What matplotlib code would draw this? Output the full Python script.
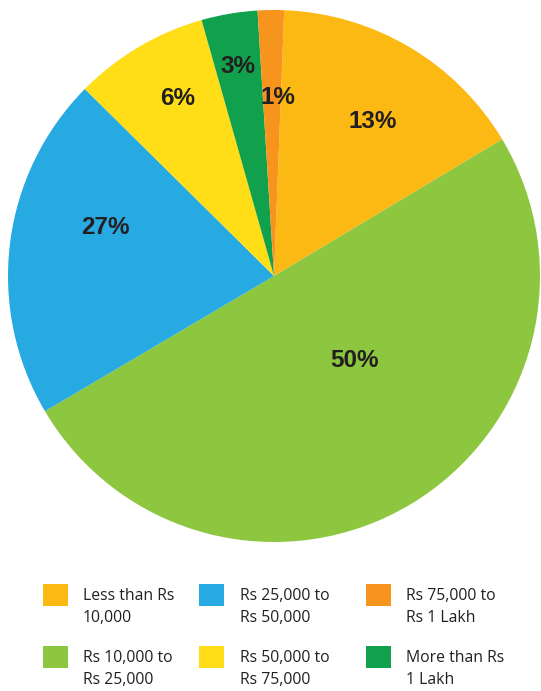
import matplotlib.pyplot as plt
from matplotlib.patches import Rectangle
import numpy as np

# categories in legend order (column-wise, 3 columns x 2 rows)
categories = ["Less than Rs\n10,000", "Rs 10,000 to\nRs 25,000",
              "Rs 25,000 to\nRs 50,000", "Rs 50,000 to\nRs 75,000",
              "Rs 75,000 to\nRs 1 Lakh", "More than Rs\n1 Lakh"]
colors = ["#FDB913", "#8DC63F", "#27A9E1", "#FFDD17", "#F7941E", "#11A04B"]
pct_labels = ["13%", "50%", "27%", "6%", "1%", "3%"]
# wedge sizes as drawn in the picture (not the printed labels)
shares = [15.8, 50.1, 20.9, 8.2, 1.6, 3.4]

# clockwise drawing order of the wedges
pie_order = [0, 1, 2, 3, 5, 4]
# label placement: (angle from wedge middle in degrees, radius fraction)
label_place = {0: (-2, 0.69), 1: (13, 0.44), 2: (-9, 0.66), 3: (-2, 0.76),
               4: (-2, 0.67), 5: (0, 0.80)}

fig = plt.figure(figsize=(5.41, 6.91), dpi=100)
ax = fig.add_axes([8 / 541, 1 - 542 / 691, 532 / 541, 532 / 691])

vals = [shares[i] for i in pie_order]
cols = [colors[i] for i in pie_order]
wedges, _ = ax.pie(vals, colors=cols, startangle=87.8, counterclock=False,
                   radius=1, wedgeprops=dict(linewidth=0))

for w, idx in zip(wedges, pie_order):
    mid = (w.theta1 + w.theta2) / 2
    off, r = label_place[idx]
    a = np.deg2rad(mid + off)
    ax.text(r * np.cos(a), r * np.sin(a), pct_labels[idx], ha="center", va="center",
            fontsize=17.5, fontweight="bold", color="#231F20", family="Liberation Sans")

ax.set_xlim(-1, 1)
ax.set_ylim(-1, 1)
ax.axis("off")

# legend drawn by hand
sq_x = [43, 199, 366]
txt_x = [83, 240, 406]
sq_top = [584, 646]
for i, lab in enumerate(categories):
    c, r = i // 2, i % 2
    fig.add_artist(Rectangle((sq_x[c] / 541, 1 - (sq_top[r] + 22) / 691), 25 / 541, 22 / 691,
                             transform=fig.transFigure, color=colors[i], lw=0))
    fig.text(txt_x[c] / 541, 1 - (sq_top[r] + 23) / 691, lab, ha="left", va="center",
             fontsize=11.3, color="#231F20", family="Open Sans", linespacing=1.5)

fig.savefig("out.png", dpi=100)
